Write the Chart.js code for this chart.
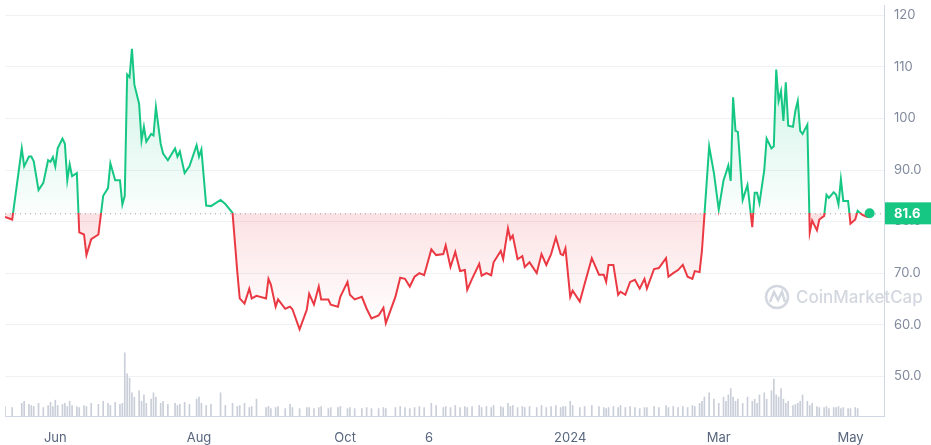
<!DOCTYPE html>
<html lang="en">
<head>
    <meta charset="UTF-8">
    <title>Price Chart</title>
    <style>
        body { margin: 0; background: #ffffff; font-family: Inter, Arial, sans-serif; }
        .wrap { width: 931px; height: 445px; position: relative; }
    </style>
    <script src="https://cdn.jsdelivr.net/npm/chart.js"></script>
</head>
<body>
    <div class="wrap"><canvas id="priceChart" width="931" height="445"></canvas></div>

    <script>
        // days since 2023-05-11
        const days = [0,3,7,8,10,11,12,14,16,18,19,20,21,22,24,25,26,27,28,30,31,33,34,36,39,41,43,44,46,48,49,50,51,52,53,54,56,57,58,59,61,62,63,65,66,68,71,72,73,75,77,80,81,82,84,86,90,92,95,97,98,100,102,103,105,109,110,111,113,114,117,119,120,123,126,127,129,131,132,135,136,139,140,143,144,146,149,151,153,156,158,159,163,165,167,169,171,173,175,178,180,183,184,186,188,190,192,193,195,198,199,201,203,204,207,208,210,211,212,214,216,217,219,222,224,226,228,230,232,233,234,236,237,240,242,245,248,250,251,252,254,256,257,259,261,263,265,267,268,271,273,276,277,279,281,283,285,287,288,290,291,292,294,296,298,300,301,302,303,304,305,306,308,310,312,313,314,315,317,318,320,321,322,323,324,325,326,327,329,330,331,332,333,335,336,337,339,340,342,343,344,346,347,348,349,350,352,353,355,356,358,360,361];
        const prices = [80.9,80.4,94.2,90.7,92.6,92.6,91.7,86.1,87.5,91.9,91.6,92.5,90.7,94.2,96.1,95.1,88.0,91.1,88.8,89.4,77.9,77.5,73.5,76.6,77.5,85.0,86.5,91.3,88.0,88.0,83.3,85.0,108.5,108.0,113.5,106.6,102.8,95.7,98.4,95.5,97.0,96.7,102.2,95.1,93.2,91.9,94.2,92.6,93.6,89.4,90.7,94.8,92.6,94.0,83.1,83.0,84.2,83.4,81.7,70.2,65.1,64.1,67.0,65.1,65.6,65.1,68.9,67.8,63.5,64.9,63.1,63.5,63.0,59.1,62.9,66.0,63.9,67.4,64.9,64.9,63.9,63.5,65.4,68.3,65.8,64.9,65.4,63.1,61.2,61.8,63.3,60.3,65.4,69.1,68.9,67.4,69.3,70.0,69.6,74.6,73.5,73.7,75.4,71.2,74.1,70.4,70.6,66.8,68.9,71.8,69.5,70.0,69.6,72.1,74.3,72.7,78.7,76.6,77.3,72.7,73.3,71.2,72.1,70.0,73.7,71.6,73.7,76.9,73.7,73.5,74.8,65.4,66.6,64.5,67.9,72.9,69.7,69.7,68.3,71.6,71.6,65.8,66.4,65.8,68.3,68.7,67.0,68.9,67.0,70.8,71.0,72.9,69.3,70.0,70.6,71.6,69.3,68.9,70.4,70.2,74.4,81.1,94.6,89.4,82.3,88.0,89.4,90.9,87.9,104.1,97.6,97.4,84.2,87.1,78.9,85.6,85.6,83.6,90.0,96.1,94.2,94.6,109.5,103.4,105.3,99.5,107.0,98.6,98.4,101.5,103.4,97.6,97.0,98.8,77.9,80.2,78.3,80.4,81.1,85.2,84.6,85.7,85.2,83.3,88.2,84.0,84.0,79.6,80.4,82.1,81.3,80.9,81.6];
        const volumes = [9,8,12,14,11,10,9,12,8,10,13,9,15,10,11,12,9,14,10,9,8,10,9,12,11,14,12,10,13,11,12,60,40,36,22,18,24,14,20,12,16,22,18,12,14,11,12,10,11,13,11,16,18,12,10,11,22,10,12,9,10,12,8,9,16,8,9,7,8,9,7,11,8,7,8,8,7,8,9,7,8,8,9,7,8,7,7,8,7,7,8,7,8,9,8,7,8,9,8,12,10,8,9,8,10,8,9,8,9,10,8,9,8,10,9,8,12,9,10,8,9,8,9,8,10,8,9,10,8,9,9,14,10,8,9,10,9,8,7,8,9,8,10,8,9,8,7,8,8,9,8,10,8,9,8,9,8,10,9,12,14,18,22,16,12,18,14,20,26,18,14,16,12,18,14,16,12,20,22,16,24,35,20,18,26,16,12,14,10,11,12,14,20,14,10,12,9,8,8,9,7,8,8,9,7,8,7,7,8,7];
        const xTickDays = [21, 81, 142, 177, 236, 298, 353];
        const xTickLabels = ['Jun', 'Aug', 'Oct', '6', '2024', 'Mar', 'May'];
        const yTicks = [50, 60, 70, 80, 90, 100, 110, 120];
        const lastPrice = prices[prices.length - 1];

        const GREEN = '#16c784';
        const RED = '#ea3943';

        function splitLine(ctx) {
            const chart = ctx.chart;
            const area = chart.chartArea;
            if (!area) return GREEN;
            const yPix = chart.scales.y.getPixelForValue(lastPrice);
            const stop = Math.min(Math.max((yPix - area.top) / (area.bottom - area.top), 0), 1);
            const g = chart.ctx.createLinearGradient(0, area.top, 0, area.bottom);
            g.addColorStop(0, GREEN);
            g.addColorStop(stop, GREEN);
            g.addColorStop(stop, RED);
            g.addColorStop(1, RED);
            return g;
        }

        function fillGrad(chart, above) {
            const area = chart.chartArea;
            if (!area) return 'rgba(0,0,0,0)';
            const yPix = chart.scales.y.getPixelForValue(lastPrice);
            const g = chart.ctx.createLinearGradient(0, area.top, 0, area.bottom);
            const stop = Math.min(Math.max((yPix - area.top) / (area.bottom - area.top), 0), 1);
            if (above) {
                g.addColorStop(0, 'rgba(22,199,132,0.28)');
                g.addColorStop(stop, 'rgba(22,199,132,0.02)');
                g.addColorStop(1, 'rgba(22,199,132,0)');
            } else {
                g.addColorStop(0, 'rgba(234,57,67,0)');
                g.addColorStop(stop, 'rgba(234,57,67,0.15)');
                g.addColorStop(Math.min(stop + 0.25, 1), 'rgba(234,57,67,0.01)');
                g.addColorStop(1, 'rgba(234,57,67,0)');
            }
            return g;
        }

        const extras = {
            id: 'extras',
            beforeDatasetsDraw(chart) {
                const { ctx, chartArea: a, scales } = chart;
                // watermark
                ctx.save();
                ctx.strokeStyle = '#d3d7df';
                ctx.lineWidth = 2.5;
                ctx.beginPath();
                ctx.arc(777, 297, 11, 0, Math.PI * 2);
                ctx.stroke();
                ctx.beginPath();
                ctx.moveTo(770, 302); ctx.lineTo(774, 292); ctx.lineTo(778, 300); ctx.lineTo(782, 292); ctx.lineTo(785, 302);
                ctx.stroke();
                ctx.fillStyle = '#d3d7df';
                ctx.font = '500 17px Inter, Arial, sans-serif';
                ctx.textBaseline = 'middle';
                ctx.fillText('CoinMarketCap', 796, 298);
                ctx.restore();
                // dotted baseline
                const y = scales.y.getPixelForValue(lastPrice);
                ctx.save();
                ctx.strokeStyle = '#9aa1ad';
                ctx.lineWidth = 1;
                ctx.setLineDash([1, 4]);
                ctx.beginPath();
                ctx.moveTo(a.left, y + 0.5);
                ctx.lineTo(a.right, y + 0.5);
                ctx.stroke();
                ctx.restore();
            },
            afterDraw(chart) {
                const { ctx, chartArea: a, scales } = chart;
                const y = scales.y.getPixelForValue(lastPrice);
                ctx.save();
                ctx.fillStyle = GREEN;
                ctx.fillRect(a.right + 1, y - 11, 46, 22);
                ctx.fillStyle = '#ffffff';
                ctx.font = 'bold 13px Inter, Arial, sans-serif';
                ctx.textBaseline = 'middle';
                ctx.textAlign = 'left';
                ctx.fillText(lastPrice.toFixed(1), a.right + 10, y + 1);
                ctx.restore();
            }
        };

        const ctx = document.getElementById('priceChart').getContext('2d');
        new Chart(ctx, {
            data: {
                datasets: [{
                    type: 'line',
                    data: days.map((d, i) => ({ x: d, y: prices[i] })),
                    yAxisID: 'y',
                    borderColor: splitLine,
                    borderWidth: 2,
                    tension: 0,
                    pointRadius: days.map((d, i) => i === days.length - 1 ? 5 : 0),
                    pointBackgroundColor: GREEN,
                    pointBorderWidth: 0,
                    fill: {
                        target: { value: lastPrice },
                        above: (c) => fillGrad(c.chart, true),
                        below: (c) => fillGrad(c.chart, false)
                    },
                    order: 1
                }, {
                    type: 'bar',
                    data: days.map((d, i) => ({ x: d, y: volumes[i] })),
                    yAxisID: 'vol',
                    backgroundColor: '#c9ced8',
                    barThickness: 1,
                    order: 2
                }]
            },
            options: {
                responsive: false,
                animation: false,
                layout: { padding: 0 },
                plugins: { legend: { display: false }, tooltip: { enabled: false } },
                scales: {
                    x: {
                        type: 'linear',
                        offset: false,
                        min: 0,
                        max: 367,
                        afterBuildTicks: (s) => { s.ticks = xTickDays.map(v => ({ value: v })); },
                        afterFit: (s) => { s.height = 29; s.paddingLeft = 0; s.paddingRight = 0; },
                        ticks: {
                            color: '#58667e',
                            font: { size: 13, family: 'Inter, Arial, sans-serif' },
                            padding: 6,
                            maxRotation: 0,
                            autoSkip: false,
                            callback: (v) => xTickLabels[xTickDays.indexOf(v)]
                        },
                        grid: { display: false },
                        border: { color: '#cfd6e4', width: 1 }
                    },
                    y: {
                        position: 'right',
                        min: 42.3,
                        max: 122,
                        afterBuildTicks: (s) => { s.ticks = yTicks.map(v => ({ value: v })); },
                        afterFit: (s) => { s.width = 47; s.paddingTop = 0; s.paddingBottom = 0; },
                        ticks: {
                            color: '#808a9d',
                            font: { size: 13, family: 'Inter, Arial, sans-serif' },
                            padding: 10,
                            callback: (v) => v >= 100 ? String(v) : v.toFixed(1)
                        },
                        grid: { color: '#eff2f5', drawTicks: false },
                        border: { color: '#cfd6e4', width: 1 }
                    },
                    vol: {
                        display: false,
                        min: 0,
                        max: 390
                    }
                }
            },
            plugins: [extras]
        });
    </script>
</body>
</html>
